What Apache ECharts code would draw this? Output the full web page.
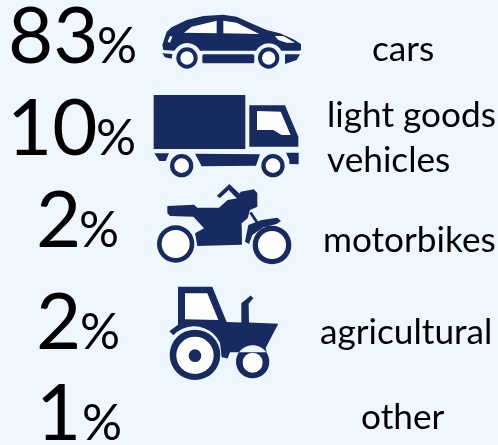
<!DOCTYPE html>
<html>
<head>
<meta charset="utf-8">
<style>
  html, body { margin: 0; padding: 0; background: #eff7fe; }
  #chart { width: 498px; height: 445px; }
</style>
</head>
<body>
<div id="chart"></div>
<script src="https://cdn.jsdelivr.net/npm/echarts@6/dist/echarts.min.js"></script>
<script>
// data
var categories = ['cars', 'light goods\nvehicles', 'motorbikes', 'agricultural', 'other']
var shares = [83, 10, 2, 2, 1]

// layout per row, in pixels
var rowShift = [-6.5, -3.5, -0.5, 12.5, 14.5]
var numberX = [8, 7, 36, 36, 36]
var percentX = [97, 96, 79, 80, 82]
var labelX = [372, 327, 323, 320, 361]
var labelShift = [12, 8, 19, 9, 3]

var navy = '#172b60'

function circ(cx, cy, r) {
  return 'M' + (cx - r) + ' ' + cy + 'A' + r + ' ' + r + ' 0 1 0 ' + (cx + r) + ' ' + cy +
    'A' + r + ' ' + r + ' 0 1 0 ' + (cx - r) + ' ' + cy + 'Z'
}

// icon outlines, traced at 3x. box = [x, y, w, h] in the traced frame
var icons = [
  {
    left: 160, top: 13.33, box: [480, 40, 430, 170],
    dark: 'M487 135L500 95L515 82L560 60L610 48L670 44L710 50L750 68L800 90L840 100L880 118L903 132L903 150L898 152L844 152A44 44 0 0 0 768 152L600 152A44 44 0 0 0 523 152L490 150Z' +
      'M487 160L517 162L515 176L495 172Z' +
      'M612 163L758 163Q763 163 763 168L763 185Q763 190 758 190L612 190Q607 190 607 185L607 168Q607 163 612 163Z' +
      'M855 163L900 163L890 180L855 192Z' + circ(561, 174, 32) + circ(806, 174, 32),
    light: 'M552 98L575 80L650 62L650 100Z' + 'M670 62L710 68L778 102L670 100Z' +
      'M825 108L850 108L885 128L860 128L835 120Z' + 'M503 125L510 108L517 110L510 128Z' +
      circ(561, 174, 20) + circ(806, 174, 20)
  },
  {
    left: 153.33, top: 93.33, box: [460, 280, 440, 260],
    dark: 'M461 285L736 285L736 447L461 447Z' + 'M748 316L855 316L895 410L895 440L748 440Z' +
      'M463 460L507 460L497 483L478 483Z' + 'M585 461L780 463L768 497L605 499Z' +
      'M858 458L896 458L896 493L868 492L868 480Z' + circ(545, 497, 35) + circ(819, 497, 35),
    light: 'M771 333L842 335L872 405L845 405L820 390L771 390Z' + circ(545, 497, 22) + circ(819, 497, 22)
  },
  {
    left: 155, top: 183.33, box: [465, 40, 415, 245],
    dark: 'M502 108L582 104L592 113L657 113L683 90L712 85L722 65L762 58L772 70L772 110L750 120L743 145L725 160L726 224L592 228L585 190L612 175L580 140L510 138L502 130Z' +
      'M650 78L688 42L720 72L712 86L686 60L660 84Z' + 'M748 130L755 125L775 155L768 160Z' +
      'M745 165L785 150L832 143L843 153L830 162L790 172L757 195L747 222L735 215Z' +
      circ(527, 222, 56) + circ(816, 225, 58),
    light: circ(527, 222, 42) + circ(816, 225, 42)
  },
  {
    left: 168.33, top: 285, box: [505, 345, 335, 285],
    dark: 'M534 350L637 350L680 457L724 458L724 400L752 377L760 385L746 402L747 458L835 462L797 535L800 548L717 548L690 548L683 567L665 563L660 520A85 85 0 0 0 520 497L508 485L534 465Z' +
      circ(585, 556, 76) + circ(758, 577, 50),
    light: 'M555 370L622 370L655 450L555 448Z' + circ(758, 578, 30) +
      'M529 556A56 56 0 1 0 641 556A56 56 0 1 0 529 556ZM566 557A19 19 0 1 1 604 557A19 19 0 1 1 566 557Z'
  },
  null
]

function iconPath(pathData, box, w, h, color) {
  // corner anchors keep both layers on the same frame when the path is scaled
  var anchors = 'M' + box[0] + ' ' + box[1] + 'L' + box[0] + ' ' + box[1] +
    'M' + (box[0] + box[2]) + ' ' + (box[1] + box[3]) + 'L' + (box[0] + box[2]) + ' ' + (box[1] + box[3])
  return {
    type: 'path',
    shape: { pathData: anchors + pathData, layout: 'cover', x: 0, y: 0, width: w, height: h },
    style: { fill: color }
  }
}

function renderRow(params, api) {
  var i = api.value(1)
  var y = api.coord([0, i])[1] + rowShift[i]
  var children = [
    {
      type: 'text',
      style: { text: String(api.value(0)), x: numberX[i], y: y, fill: '#000', font: '78px Lato', textAlign: 'left', textVerticalAlign: 'middle' }
    },
    {
      type: 'text',
      style: { text: '%', x: percentX[i], y: y + 9, fill: '#000', font: '50px Lato', textAlign: 'left', textVerticalAlign: 'middle' }
    },
    {
      type: 'text',
      style: { text: categories[i], x: labelX[i], y: y + labelShift[i], fill: '#000', font: '35.2px Lato', lineHeight: 45, textAlign: 'left', textVerticalAlign: 'middle' }
    }
  ]
  var icon = icons[i]
  if (icon) {
    var w = icon.box[2] / 3
    var h = icon.box[3] / 3
    children.push({
      type: 'group',
      x: icon.left,
      y: icon.top,
      children: [iconPath(icon.dark, icon.box, w, h, navy), iconPath(icon.light, icon.box, w, h, '#ffffff')]
    })
  }
  return { type: 'group', children: children }
}

var chart = echarts.init(document.getElementById('chart'))
chart.setOption({
  backgroundColor: '#eff7fe',
  animation: false,
  grid: { left: 0, right: 0, top: 0, bottom: 0 },
  xAxis: { type: 'value', min: 0, max: 100, show: false },
  yAxis: { type: 'category', inverse: true, data: categories, show: false },
  series: [
    {
      type: 'custom',
      clip: false,
      renderItem: renderRow,
      encode: { x: 0, y: 1 },
      data: shares.map(function(v, i) { return [v, i] })
    }
  ]
})
</script>
</body>
</html>
